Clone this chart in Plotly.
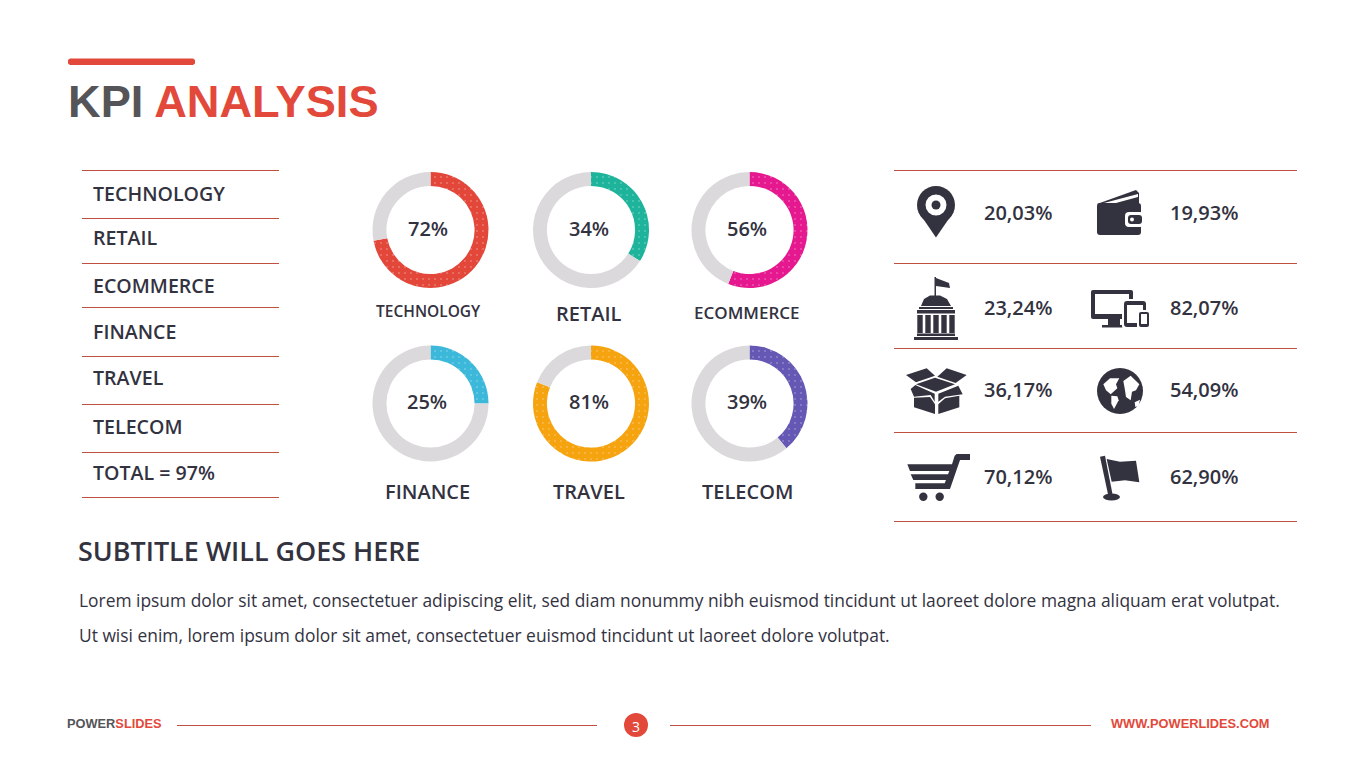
import plotly.graph_objects as go

W, H = 1365, 767

# data
sectors = ["TECHNOLOGY", "RETAIL", "ECOMMERCE", "FINANCE", "TRAVEL", "TELECOM"]
sector_pct = [72, 34, 56, 25, 81, 39]
total_label = "TOTAL = 97%"
kpi_left = ["20,03%", "23,24%", "36,17%", "70,12%"]
kpi_right = ["19,93%", "82,07%", "54,09%", "62,90%"]
subtitle = "SUBTITLE WILL GOES HERE"
body_lines = [
    "Lorem ipsum dolor sit amet, consectetuer adipiscing elit, sed diam nonummy nibh euismod tincidunt ut laoreet dolore magna aliquam erat volutpat.",
    "Ut wisi enim, lorem ipsum dolor sit amet, consectetuer euismod tincidunt ut laoreet dolore volutpat.",
]

# colours
RED = "#E2493B"
DARK = "#33323F"
GREY = "#DCD9DC"
RULE = "#C0503F"
ring_colors = ["#E2473A", "#1DB49B", "#E5188F", "#3CB8DA", "#F5A30F", "#6558B5"]

# layout positions (pixels)
ring_x = [430.5, 591, 749.5, 430.5, 591, 749.5]
ring_y = [230, 230, 230, 403.5, 403.5, 403.5]
ring_r = 58
name_x = [428, 589, 747, 427, 589, 747]
name_y = [311, 313, 312, 491, 491, 491]
name_size = [15.5, 20, 17, 20, 20, 20]
list_y = [193, 237, 285, 331, 377, 426, 472]
list_rules = [170, 218, 263, 307, 356, 404, 452, 497]
kpi_rules = [170, 263, 348, 432, 521]
kpi_y = [212, 307, 389, 476]
FONT = "Open Sans"


def X(v):
    return v / W


def Y(v):
    return 1 - v / H


shapes = []
annotations = []


def text(x, y, s, size, color=DARK, anchor="left", family=FONT, weight=600):
    annotations.append(dict(
        x=X(x), y=Y(y), xref="paper", yref="paper", text=s, showarrow=False,
        xanchor=anchor, yanchor="middle", borderpad=0,
        font=dict(family=family, size=size, color=color, weight=weight),
    ))


def rule(x0, x1, y):
    shapes.append(dict(type="line", xref="paper", yref="paper", x0=X(x0), x1=X(x1),
                       y0=Y(y + 0.5), y1=Y(y + 0.5), line=dict(color=RULE, width=1)))


def poly(pts, color=DARK):
    d = "M" + " L".join(f"{X(a):.5f},{Y(b):.5f}" for a, b in pts) + " Z"
    shapes.append(dict(type="path", xref="paper", yref="paper", path=d,
                       fillcolor=color, line=dict(width=0)))


def box(x0, y0, x1, y1, color=DARK):
    poly([(x0, y0), (x1, y0), (x1, y1), (x0, y1)], color)


def rbox(x0, y0, x1, y1, r, color=DARK):
    p = lambda a, b: f"{X(a):.5f},{Y(b):.5f}"
    d = (f"M{p(x0 + r, y0)} L{p(x1 - r, y0)} Q{p(x1, y0)} {p(x1, y0 + r)} L{p(x1, y1 - r)} "
         f"Q{p(x1, y1)} {p(x1 - r, y1)} L{p(x0 + r, y1)} Q{p(x0, y1)} {p(x0, y1 - r)} "
         f"L{p(x0, y0 + r)} Q{p(x0, y0)} {p(x0 + r, y0)} Z")
    shapes.append(dict(type="path", xref="paper", yref="paper", path=d,
                       fillcolor=color, line=dict(width=0)))


def circle(cx, cy, rx, ry=None, color=DARK):
    shapes.append(dict(type="circle", xref="paper", yref="paper", x0=X(cx - rx), x1=X(cx + rx),
                       y0=Y(cy - (ry or rx)), y1=Y(cy + (ry or rx)),
                       fillcolor=color, line=dict(width=0)))


def zoomed(pts, ox, oy):
    # icon outlines were measured on 3x crops
    return [(ox + a / 3, oy + b / 3) for a, b in pts]


def draw_icons():
    # pin
    poly([(918.5, 212), (936, 237.5), (953.5, 212)])
    circle(936, 205, 19)
    circle(936, 205, 10.5, color="white")
    circle(936, 205, 4.5)
    # wallet
    poly([(1097, 204), (1136, 190), (1139, 193), (1139, 204)])
    poly([(1104, 203), (1138, 194), (1138, 197), (1116, 203)], "white")
    rbox(1097, 203, 1141, 235, 3)
    rbox(1125, 212, 1144, 227, 4, "white")
    rbox(1128, 215, 1142, 224, 3)
    circle(1132, 219.5, 2, color="white")
    # building
    box(934.5, 277, 936, 297)
    poly([(936, 278), (949, 283), (950, 288), (936, 286)])
    poly([(921, 306), (924, 299), (930, 295.5), (940, 295.5), (947, 299), (951, 306)])
    box(919, 307, 953, 309)
    box(917, 310, 955, 313.5)
    for cx in [920, 928, 936, 944, 952]:
        box(cx - 2.7, 315, cx + 2.7, 333)
    box(917, 333.5, 955, 336)
    box(914, 337, 958, 340)
    # devices
    rbox(1091, 290, 1133, 319, 2)
    box(1095, 294, 1129, 314, "white")
    box(1108, 319, 1120, 325)
    box(1102, 325, 1123, 327.5)
    rbox(1122, 299, 1148, 329, 3, "white")
    rbox(1124, 301, 1146, 327, 3)
    box(1127, 305, 1143, 323, "white")
    rbox(1137, 310, 1151, 329, 2, "white")
    rbox(1139, 312, 1149, 327, 2)
    box(1141, 314, 1147, 324, "white")
    # open box
    ox, oy = 890, 345
    poly(zoomed([(48, 90), (110, 70), (135, 92), (78, 112)], ox, oy))
    poly(zoomed([(142, 95), (170, 70), (230, 90), (197, 114)], ox, oy))
    poly(zoomed([(78, 118), (135, 98), (195, 118), (138, 140)], ox, oy))
    poly(zoomed([(62, 132), (76, 120), (134, 146), (134, 170), (122, 150), (72, 155)], ox, oy))
    poly(zoomed([(145, 146), (205, 122), (218, 148), (165, 155), (145, 170)], ox, oy))
    poly(zoomed([(72, 158), (120, 156), (135, 178), (135, 207), (72, 187)], ox, oy))
    poly(zoomed([(145, 178), (165, 160), (208, 152), (208, 187), (145, 207)], ox, oy))
    # globe
    circle(1120, 391, 23)
    poly(zoomed([(640, 118), (660, 100), (688, 100), (678, 118), (682, 130), (662, 148), (648, 136)], ox, oy), "white")
    poly(zoomed([(664, 152), (682, 154), (686, 166), (672, 192), (664, 176)], ox, oy), "white")
    poly(zoomed([(700, 108), (722, 92), (748, 118), (738, 136), (726, 140), (722, 166), (708, 156), (704, 130)], ox, oy), "white")
    poly(zoomed([(734, 172), (750, 164), (746, 182), (736, 186)], ox, oy), "white")
    # cart
    poly(zoomed([(52, 358), (186, 358), (194, 332), (200, 327), (240, 327), (240, 345), (210, 345),
                 (180, 432), (76, 432), (76, 415), (164, 415), (168, 405), (70, 405), (62, 388),
                 (174, 388), (178, 378), (60, 378)], ox, oy))
    circle(923.3, 496.7, 4.2)
    circle(939.7, 496.7, 4.2)
    # flag
    poly(zoomed([(630, 335), (645, 332), (668, 450), (655, 452)], ox, oy))
    circle(1111.5, 497, 8.5, 3.5)
    poly(zoomed([(650, 342), (690, 350), (738, 347), (748, 412), (705, 406), (665, 410)], ox, oy))


fig = go.Figure()

for name, pct, color, cx, cy in zip(sectors, sector_pct, ring_colors, ring_x, ring_y):
    fig.add_trace(go.Pie(
        values=[pct, 100 - pct],
        sort=False, direction="clockwise", rotation=0, hole=0.76,
        textinfo="none", hoverinfo="skip", showlegend=False,
        domain=dict(x=[X(cx - ring_r), X(cx + ring_r)], y=[Y(cy + ring_r), Y(cy - ring_r)]),
        marker=dict(colors=[color, GREY], line=dict(width=0),
                    pattern=dict(shape=[".", ""], fgcolor="white", bgcolor=[color, GREY],
                                 fgopacity=0.55, size=6, solidity=0.04, fillmode="replace")),
    ))

# title block
poly([(70, 58.5), (193, 58.5), (195, 60), (195, 63.5), (193, 65), (70, 65), (68, 63.5), (68, 60)], RED)
text(67, 101, f'<span style="color:#555559">KPI</span> <span style="color:{RED}">ANALYSIS</span>',
     45.2, family="Liberation Sans", weight=700)

# left list
for y in list_rules:
    rule(82, 279, y)
for label, y in zip(sectors + [total_label], list_y):
    text(92, y, label, 19.6)

# ring labels
for name, pct, x, cx, y, ny, size in zip(sectors, sector_pct, name_x, ring_x, ring_y, name_y, name_size):
    text(x, y - 2, f"{pct}%", 20, anchor="center")
    text(x, ny, name, size, anchor="center")

# right panel
for y in kpi_rules:
    rule(894, 1297, y)
for a, b, y in zip(kpi_left, kpi_right, kpi_y):
    text(983, y, a, 20)
    text(1169, y, b, 20)
draw_icons()

# subtitle and body
text(77, 550, subtitle, 26.9)
text(78, 600, body_lines[0], 17.4, weight=400)
text(78, 635, body_lines[1], 17.4, weight=400)

# footer
text(66, 723, f'<span style="color:#555559">POWER</span><span style="color:{RED}">SLIDES</span>',
     12.8, family="Liberation Sans", weight=700)
rule(177, 597, 725)
rule(670, 1091, 725)
circle(636, 725, 12, color=RED)
text(636, 726, "3", 14, color="white", anchor="center", weight=400)
text(1271, 723, "WWW.POWERLIDES.COM", 12.8, color=RED, anchor="right", family="Liberation Sans", weight=700)

fig.update_layout(
    width=W, height=H,
    margin=dict(l=0, r=0, t=0, b=0),
    paper_bgcolor="white", plot_bgcolor="white",
    shapes=shapes, annotations=annotations,
)

fig.write_html("out.html", config=dict(displayModeBar=False),
               post_script="document.body.style.margin='0';")
